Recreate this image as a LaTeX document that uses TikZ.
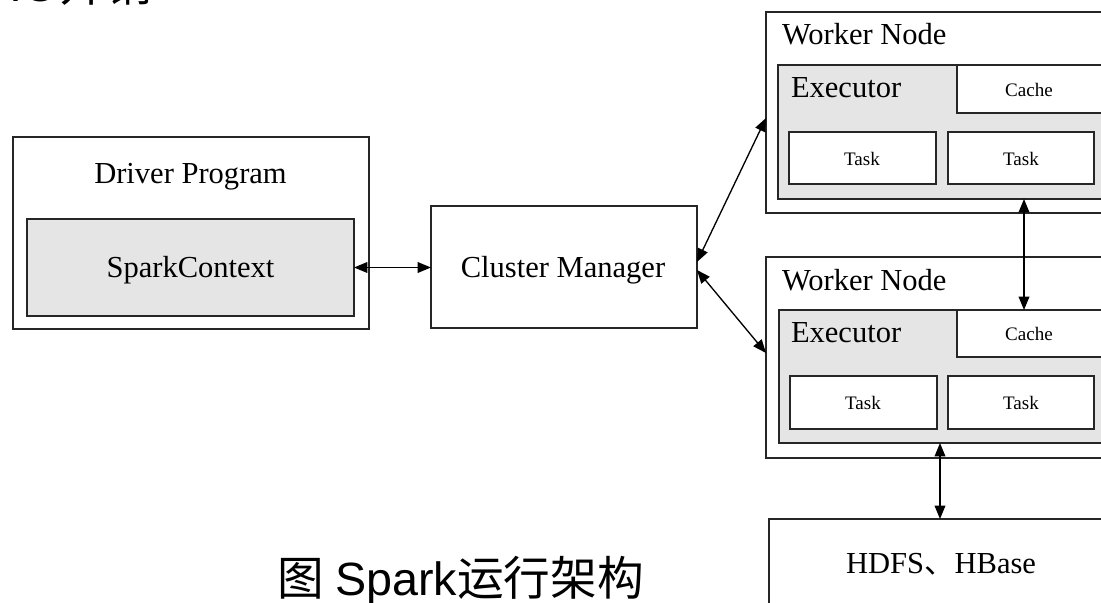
\documentclass[tikz,border=0pt]{standalone}
\usepackage{fontspec}
\setmainfont{Liberation Serif}
\newfontfamily\cjk{Noto Sans CJK SC}
\newfontfamily\arial{Liberation Sans}
\usetikzlibrary{arrows.meta,calc}

\begin{document}
\begin{tikzpicture}[x=0.75pt,y=-0.75pt,
  box/.style 2 args={draw=black!85, rectangle, inner sep=0pt, outer sep=0pt,
    minimum width=#1*0.75pt, minimum height=#2*0.75pt},
  outer/.style={line width=1.6pt},
  inner/.style={line width=1.1pt},
  shade/.style={fill=black!10},
  blank/.style={fill=white},
  big/.style={font=\fontsize{22.9}{26}\selectfont, inner sep=0pt, outer sep=0pt},
  small/.style={font=\fontsize{14.3}{16}\selectfont, inner sep=0pt, outer sep=0pt, anchor=base},
  title/.style={font=\fontsize{35}{40}\selectfont, inner sep=0pt, outer sep=0pt, anchor=base west},
  link/.style={draw=black, line width=1pt, >={Triangle[length=10pt,width=8pt]}, <->}
]
% canvas
\fill[white] (0,0) rectangle (1101,603);
\useasboundingbox (0,0) rectangle (1101,603);
\clip (0,0) rectangle (1101,603);

% heading line running off the top edge
\node[title] (head) at (10,2) {\arial IO\cjk 开销};

% driver
\node[box={356}{192}, outer, blank] (drv) at (191,233) {};
\node[box={327}{97}, outer, shade] (sc) at (190.5,267.5) {};
\node[big, anchor=base] (drvlbl) at (190.5,183) {Driver Program};
\node[big, anchor=base] (sclbl) at (190.5,277) {SparkContext};

% cluster manager
\node[box={266}{122}, outer, blank] (cm) at (564,267) {};
\node[big, anchor=base] (cmlbl) at (563,277) {Cluster Manager};

% worker node 1
\node[box={353}{201}, outer, blank] (w1) at (942.5,112.5) {};
\node[box={328}{134}, inner, shade] (e1) at (942,132) {};
\node[box={149}{48}, inner, blank] (c1) at (1031.5,89) {};
\node[box={147}{52}, inner, blank] (t1a) at (862.5,158) {};
\node[box={146}{52}, inner, blank] (t1b) at (1021,158) {};
\node[big, anchor=base west] (w1lbl) at (782,45) {Worker Node};
\node[big, anchor=base west] (e1lbl) at (791,97) {Executor};
\node[small] (c1lbl) at (1029,96) {Cache};
\node[small] (t1albl) at (862,165) {Task};
\node[small] (t1blbl) at (1021,165) {Task};

% worker node 2
\node[box={353}{201}, outer, blank] (w2) at (942.5,357.5) {};
\node[box={327}{133}, inner, shade] (e2) at (942.5,376.5) {};
\node[box={149}{47}, inner, blank] (c2) at (1031.5,333.5) {};
\node[box={147}{53}, inner, blank] (t2a) at (863.5,402.5) {};
\node[box={146}{53}, inner, blank] (t2b) at (1021,402.5) {};
\node[big, anchor=base west] (w2lbl) at (782,290) {Worker Node};
\node[big, anchor=base west] (e2lbl) at (791,342) {Executor};
\node[small] (c2lbl) at (1029,340) {Cache};
\node[small] (t2albl) at (863,409) {Task};
\node[small] (t2blbl) at (1021,409) {Task};

% storage
\node[box={342}{88}, outer, blank] (hdfs) at (940,563) {};
\node[big, anchor=base] (hdfslbl) at (941,573) {HDFS{\cjk 、}HBase};

% connectors
\draw[link] (sc.east) -- (sc.east -| cm.west);
\draw[link] ($(cm.east)+(0,-5)$) -- ($(w1.west)+(0,5.5)$);
\draw[link] ($(cm.east)+(0,3)$) -- ($(w2.west)+(0,-4.5)$);
\coordinate (v1) at ($(c2.north)+(-7.5,0)$);
\draw[link] (v1 |- e1.south) -- (v1);
\draw[link] (hdfs.north |- e2.south) -- (hdfs.north);

% caption
\node[title] (cap) at (277,595) {{\cjk 图} {\arial Spark}{\cjk 运行架构}};
\end{tikzpicture}
\end{document}
